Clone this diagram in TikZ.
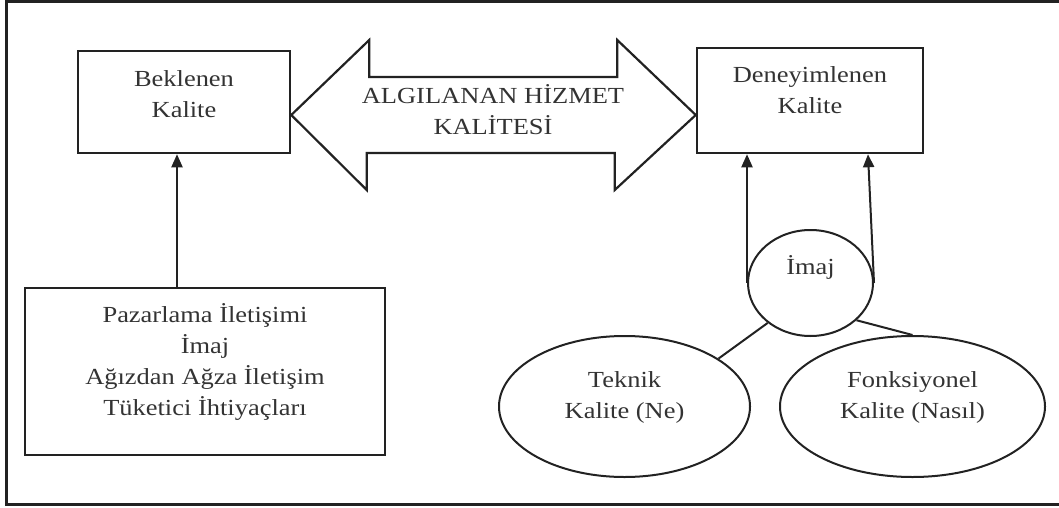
\documentclass[tikz,border=0pt]{standalone}
\usepackage{fontspec}
\setmainfont[FakeStretch=1.15]{Liberation Serif}
\usepackage{tikz}
\usetikzlibrary{positioning,arrows.meta,shapes.geometric,calc}
\definecolor{ink}{HTML}{222222}
\definecolor{inktext}{HTML}{333333}

\begin{document}
\begin{tikzpicture}[x=1pt, y=-1pt,
      txt/.style={text=inktext, align=center, font=\fontsize{23}{31}\selectfont},
      box/.style={rectangle, draw=ink, line width=2.5pt, inner sep=2pt, txt},
      oval/.style={ellipse, draw=ink, line width=2pt, inner sep=2pt, txt},
      bigarrow/.style={draw=ink, line width=2.2pt, line join=miter},
      arr/.style={-{Triangle[length=13pt, width=11pt]}, draw=ink, line width=2pt},
      link/.style={draw=ink, line width=2pt},
    ]
    \useasboundingbox (0,0) rectangle (1059,508);
    % frame, open on the right
    \draw[ink, line width=3pt] (1065,1.5) -- (6.5,1.5) -- (6.5,504.5) -- (1065,504.5);

    \node[box, minimum width=212, minimum height=102, text depth=16.5pt] (bek) at (184,102) {Beklenen\\Kalite};
    \node[box, minimum width=226, minimum height=105, text depth=21.5pt] (den) at (810,100.5) {Deneyimlenen\\Kalite};
    \node[box, minimum width=360, minimum height=167, text depth=24pt] (paz) at (205,371.5)
      {Pazarlama İletişimi\\İmaj\\Ağızdan Ağza İletişim\\Tüketici İhtiyaçları};

    \node[oval, minimum width=125, minimum height=106, text depth=36pt] (imaj) at (810.5,283) {İmaj};
    \node[oval, minimum width=251, minimum height=141, text depth=23.5pt] (teknik) at (624.5,406.5) {Teknik\\Kalite (Ne)};
    \node[oval, minimum width=265, minimum height=141, text depth=23.5pt] (fonk) at (912.5,406.5) {Fonksiyonel\\Kalite (Nasıl)};

    % double arrow between the two qualities
    \coordinate (tipL) at ([yshift=-13pt]bek.east);
    \coordinate (tipR) at ([yshift=-14.5pt]den.west);
    \draw[bigarrow] (tipL) -- ++(78,-75) -- ++(0,37) -- ++(248,0) -- ++(0,-37) -- (tipR)
      -- ++(-81,75) -- ++(0,-37) -- ++(-248,0) -- ++(0,37) -- cycle;
    \node[txt, text depth=11pt] (algi) at (493,115) {ALGILANAN HİZMET\\KALİTESİ};

    \draw[arr] ([xshift=-28pt]paz.north) -- ([xshift=-7pt]bek.south);
    \draw[arr] (imaj.west) -- (imaj.west |- den.south);
    \draw[arr] (imaj.east) -- ([xshift=58pt]den.south);

    \draw[link] (imaj.223) -- (teknik.27);
    \draw[link] (imaj.321) -- (fonk.north);
  \end{tikzpicture}
\end{document}
